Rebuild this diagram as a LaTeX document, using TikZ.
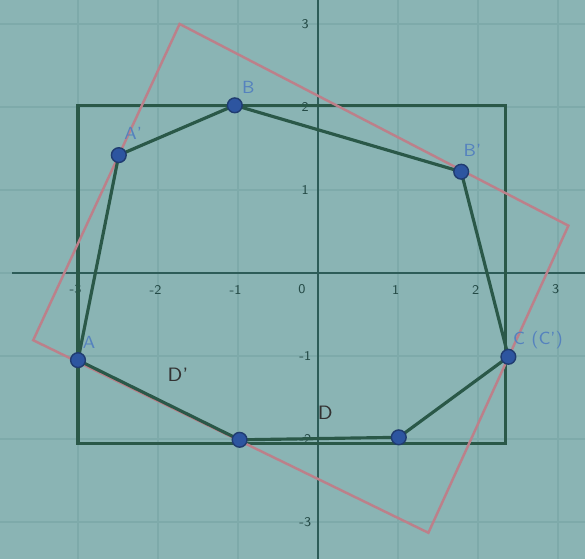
\documentclass[tikz,border=0pt]{standalone}
\usepackage{amsmath,amssymb}
\usepackage{tikz}
\definecolor{paper}{RGB}{138,180,180}
\definecolor{gridc}{RGB}{126,170,170}
\definecolor{axisc}{RGB}{45,92,88}
\definecolor{rectc}{RGB}{42,88,72}
\definecolor{rotc}{RGB}{188,128,138}
\definecolor{ptc}{RGB}{45,85,160}
\definecolor{lblc}{RGB}{85,130,190}
\tikzset{
	pt/.style={circle, fill=ptc, draw=ptc!70!black, inner sep=0pt, minimum size=4.2pt},
	ptlabel/.style={text=lblc, font=\fontsize{5}{5}\selectfont\sffamily, inner sep=0pt},
	tick/.style={text=axisc!80!black, font=\fontsize{3.8}{4}\selectfont\sffamily, inner sep=0pt},
	region/.style={text=black!80, font=\fontsize{5.5}{6}\selectfont\sffamily, inner sep=0pt}
}

\begin{document}
\begin{tikzpicture}[x=0.8cm, y=0.83cm]
	\useasboundingbox[fill=paper] (-3.975,-3.446) rectangle (3.3375,3.289);
	
	% grid and axes
	\foreach \x in {-3,...,3}
		\draw[gridc, line width=0.4pt] (\x,3.289) -- (\x,-3.446);
	\foreach \y in {-3,...,3}
		\draw[gridc, line width=0.4pt] (-3.975,\y) -- (3.3375,\y);
	\draw[axisc, line width=0.7pt] (-3.82,0) -- (3.3375,0);
	\draw[axisc, line width=0.7pt] (0,3.289) -- (0,-3.446);
	\foreach \x in {-3,-2,-1,1,2,3}
		\node[tick] at (\x-0.03,-0.2) {\x};
	\node[tick] at (-0.2,-0.2) {0};
	\foreach \y in {3,2,1,-1,-2,-3}
		\node[tick] at (-0.16,\y) {\y};
	
	% points
	\coordinate (A) at (-3,-1.05);
	\coordinate (Ap) at (-2.49,1.42);
	\coordinate (B) at (-1.04,2.02);
	\coordinate (Bp) at (1.79,1.22);
	\coordinate (C) at (2.38,-1.01);
	\coordinate (E) at (1.01,-1.98);
	\coordinate (F) at (-0.98,-2.01);
	
	% rectangle D
	\draw[rectc, line width=0.9pt] (-3,2.02) rectangle (2.34,-2.05);
	% rotated rectangle D'
	\coordinate (R1) at (-1.73,3.0);
	\coordinate (R2) at (3.13,0.57);
	\coordinate (R3) at (1.38,-3.13);
	\coordinate (R4) at (-3.56,-0.81);
	\draw[rotc, line width=0.7pt] (R1) -- (R2) -- (R3) -- (R4) -- cycle;
	
	% polygon
	\draw[rectc, line width=0.9pt] (A) -- (Ap) -- (B) -- (Bp) -- (C) -- (E) -- (F) -- cycle;
	\foreach \p in {A,Ap,B,Bp,C,E,F}
		\node[pt] (n\p) at (\p) {};
	
	\node[ptlabel] (lA) at (-2.86,-0.84) {A};
	\node[ptlabel] (lAp) at (-2.31,1.68) {A'};
	\node[ptlabel] (lB) at (-0.87,2.23) {B};
	\node[ptlabel] (lBp) at (1.93,1.48) {B'};
	\node[ptlabel] (lC) at (2.75,-0.81) {C (C')};
	
	\node[region] (Dp) at (-1.75,-1.23) {D'};
	\node[region] (D) at (0.09,-1.68) {D};
\end{tikzpicture}
\end{document}
